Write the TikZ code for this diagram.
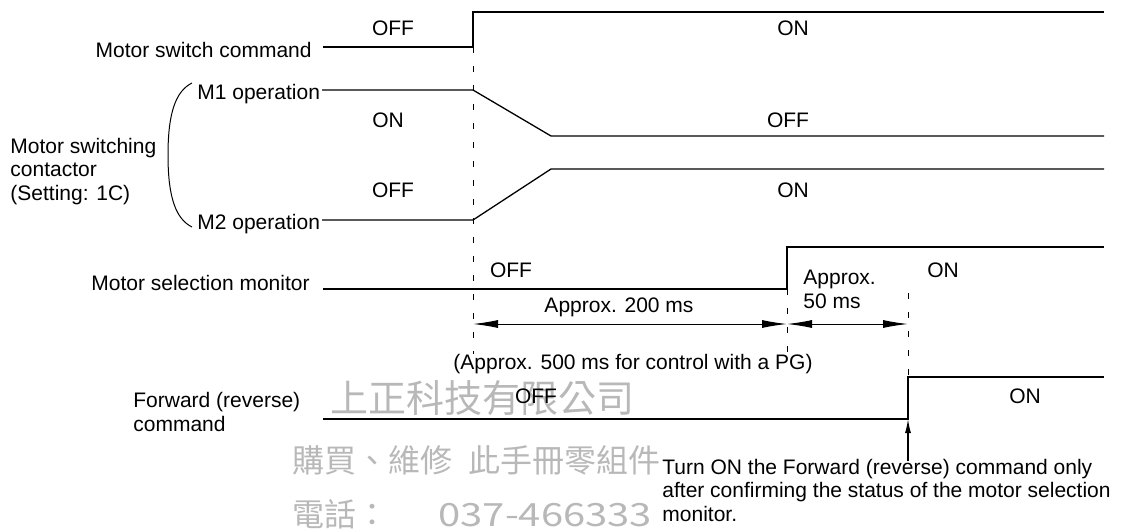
\documentclass[tikz,border=0pt]{standalone}
\usepackage{fontspec}
\setmainfont{Liberation Sans}
\newfontfamily\cjk{Noto Sans CJK TC}
\usetikzlibrary{arrows.meta}

\begin{document}
\begin{tikzpicture}[x=0.5pt, y=-0.5pt,
    sig/.style={line width=0.65pt},
    guide/.style={line width=0.5pt, dash pattern=on 3pt off 6.5pt},
    lbl/.style={inner sep=0pt, font=\fontsize{10.5pt}{11.7pt}\selectfont},
    wmark/.style={inner sep=0pt, anchor=base west, text=black!28},
    dim/.style={line width=0.5pt, {Latex[length=12.5pt,width=4pt]}-{Latex[length=12.5pt,width=4pt]}},
    tip/.style={line width=0.6pt, -{Latex[length=7pt,width=3pt]}}]

    \useasboundingbox (0,0) rectangle (1131,531);

    \node[wmark, font=\cjk\fontsize{19pt}{19pt}\selectfont] (wm1) at (330,412) {上正科技有限公司};
    \node[wmark, font=\cjk\fontsize{16pt}{16pt}\selectfont] (wm2) at (292,472) {購買、維修\hspace{0.5em}此手冊零組件};
    \node[wmark, font=\cjk\fontsize{16pt}{16pt}\selectfont] (wm3) at (292,526) {電話：\hspace{25pt}\scalebox{1.25}[1]{037-466333}};

    \coordinate (sw0) at (323,47);
    \coordinate (sw1) at (473,47);
    \coordinate (sw2) at (473,12);
    \coordinate (sw3) at (1104,12);
    \coordinate (m1a) at (322,90);
    \coordinate (m1b) at (473,90);
    \coordinate (m1c) at (551,136);
    \coordinate (m1d) at (1104,136);
    \coordinate (m2a) at (322,220);
    \coordinate (m2b) at (473,220);
    \coordinate (m2c) at (551,169);
    \coordinate (m2d) at (1104,169);
    \coordinate (ms0) at (323,289);
    \coordinate (ms1) at (787,289);
    \coordinate (ms2) at (787,247);
    \coordinate (ms3) at (1104,247);
    \coordinate (fw0) at (323,419);
    \coordinate (fw1) at (908,419);
    \coordinate (fw2) at (908,377);
    \coordinate (fw3) at (1104,377);

    \draw[sig] (sw0) -- (sw1) -- (sw2) -- (sw3);
    \draw[sig] (m1a) -- (m1b) -- (m1c) -- (m1d);
    \draw[sig] (m2a) -- (m2b) -- (m2c) -- (m2d);
    \draw[sig] (ms0) -- (ms1) -- (ms2) -- (ms3);
    \draw[sig] (fw0) -- (fw1) -- (fw2) -- (fw3);

    \coordinate (g1a) at (473,47);
    \coordinate (g1b) at (473,354);
    \coordinate (g2a) at (787,289);
    \coordinate (g2b) at (787,356);
    \coordinate (g3a) at (908,293);
    \draw[guide] (g1a) -- (g1b);
    \draw[guide] (g2a) -- (g2b);
    \draw[guide] (g3a) -- (fw2);

    \coordinate (d1) at (473,324);
    \coordinate (d2) at (787,324);
    \coordinate (d3) at (908,324);
    \draw[dim] (d1) -- (d2);
    \draw[dim] (d2) -- (d3);

    \coordinate (up) at (908,461);
    \draw[tip] (up) -- (fw1);

    \draw[line width=0.5pt] (192,83) .. controls (176,91) and (168,112) .. (168,155)
        .. controls (168,198) and (176,219) .. (192,227);

    \node[lbl, anchor=base east] (cmd) at (312,57) {Motor switch command};
    \node[lbl, anchor=base] (swoff) at (393,35) {OFF};
    \node[lbl, anchor=base] (swon) at (793,35) {ON};

    \node[lbl, anchor=base west] (m1) at (197,99) {M1 operation};
    \node[lbl, anchor=base west] (m2) at (197,229) {M2 operation};
    \node[lbl, anchor=base west, align=left] (msc) at (10,200) {Motor switching\\contactor\\(Setting: 1C)};
    \node[lbl, anchor=base] (m1on) at (388,127) {ON};
    \node[lbl, anchor=base] (m1off) at (788,127) {OFF};
    \node[lbl, anchor=base] (m2off) at (393,197) {OFF};
    \node[lbl, anchor=base] (m2on) at (793,197) {ON};

    \node[lbl, anchor=base east] (msel) at (310,290) {Motor selection monitor};
    \node[lbl, anchor=base] (msoff) at (511,277) {OFF};
    \node[lbl, anchor=base] (mson) at (943,277) {ON};
    \node[lbl, anchor=base] (t200) at (619,312) {Approx. 200 ms};
    \node[lbl, anchor=base west, align=left] (t50) at (803,308) {Approx.\\50 ms};
    \node[lbl, anchor=base] (tpg) at (633,369) {(Approx. 500 ms for control with a PG)};

    \node[lbl, anchor=base west, align=left] (fwd) at (133,431) {Forward (reverse)\\command};
    \node[lbl, anchor=base] (fwoff) at (536,403) {OFF};
    \node[lbl, anchor=base] (fwon) at (1025,403) {ON};
    \node[lbl, anchor=base west, align=left] (note) at (662,521) {Turn ON the Forward (reverse) command only\\after confirming the status of the motor selection\\monitor.};
\end{tikzpicture}
\end{document}
